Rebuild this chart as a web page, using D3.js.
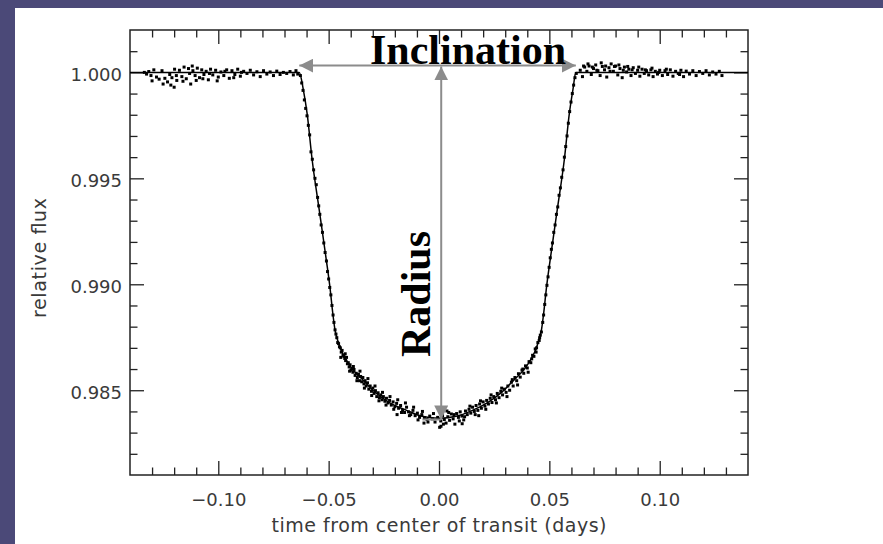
<!DOCTYPE html>
<html>
<head>
<meta charset="utf-8">
<script src="https://cdn.jsdelivr.net/npm/d3@7"></script>
<style>
  body { margin: 0; background: #4b4978; }
  svg { display: block; }
</style>
</head>
<body>
<div id="plot"></div>
<script>
(function() {
"use strict";

// tick values
const X_MAJOR = [-0.10, -0.05, 0.00, 0.05, 0.10];
const Y_MAJOR = [0.985, 0.990, 0.995, 1.000];

// fitted transit model (time in days, relative flux)
const MODEL_TIME = [-0.140, -0.0633, -0.0615, -0.0597, -0.0575, -0.0543, -0.0511, -0.0493, -0.0482, -0.0472, -0.0460,
  -0.0439, -0.0398, -0.0348, -0.0290, -0.0226, -0.0149, -0.0077, 0.0000, 0.0077, 0.0149, 0.0222, 0.0285, 0.0343,
  0.0393, 0.0433, 0.0453, 0.0465, 0.0475, 0.0486, 0.0504, 0.0536, 0.0568, 0.0590, 0.0607, 0.0620, 0.140];
const MODEL_FLUX = [1.0000, 1.0000, 0.99920, 0.99802, 0.99590, 0.99354, 0.99118, 0.98976, 0.98870, 0.98790, 0.98738,
  0.98679, 0.98608, 0.98552, 0.98491, 0.98443, 0.98406, 0.98377, 0.98368, 0.98377, 0.98404, 0.98443, 0.98491, 0.98552,
  0.98608, 0.98679, 0.98738, 0.98790, 0.98870, 0.98976, 0.99118, 0.99354, 0.99590, 0.99802, 0.99920, 1.0000, 1.0000];

// observations, [time, flux]
const BEFORE = [[-0.1335, 1.00000], [-0.1325, 0.99992], [-0.1315, 1.00004], [-0.1305, 0.99985], [-0.1300, 0.99960],
  [-0.1292, 1.00012], [-0.1280, 0.99978], [-0.1268, 0.99968], [-0.1255, 1.00008], [-0.1250, 0.99945], [-0.1242, 0.99972],
  [-0.1230, 0.99955], [-0.1220, 0.99990], [-0.1215, 0.99940], [-0.1210, 0.99975], [-0.1200, 0.99930], [-0.1198, 1.00015],
  [-0.1190, 0.99985], [-0.1188, 0.99962], [-0.1176, 1.00010], [-0.1165, 0.99980], [-0.1160, 0.99958], [-0.1155, 1.00025],
  [-0.1145, 0.99970], [-0.1135, 1.00018], [-0.1130, 0.99995], [-0.1125, 0.99945], [-0.1118, 1.00030], [-0.1115, 1.00008],
  [-0.1105, 0.99985], [-0.1100, 0.99962], [-0.1095, 1.00020], [-0.1085, 0.99975], [-0.1075, 1.00012], [-0.1070, 0.99970],
  [-0.1065, 0.99990], [-0.1055, 1.00005], [-0.1045, 0.99965], [-0.1040, 0.99995], [-0.1035, 1.00015], [-0.1025, 0.99988],
  [-0.1012, 1.00010], [-0.1005, 0.99960], [-0.1000, 0.99978], [-0.0988, 1.00002], [-0.0975, 0.99985], [-0.0970, 1.00005],
  [-0.0962, 1.00012], [-0.0950, 0.99972], [-0.0938, 1.00008], [-0.0930, 0.99975], [-0.0925, 0.99990], [-0.0912, 1.00015],
  [-0.0900, 0.99982], [-0.0895, 1.00000], [-0.0885, 1.00005], [-0.0870, 0.99995], [-0.0855, 1.00010], [-0.0840, 0.99988],
  [-0.0825, 1.00003], [-0.0810, 0.99980], [-0.0795, 1.00008], [-0.0780, 0.99992], [-0.0765, 1.00002], [-0.0750, 0.99985],
  [-0.0735, 1.00006], [-0.0720, 0.99990], [-0.0705, 1.00000], [-0.0690, 0.99995], [-0.0675, 1.00004], [-0.0660, 0.99988],
  [-0.0648, 1.00008], [-0.0640, 0.99992]];

const INGRESS = [[-0.0628, 0.99985], [-0.0622, 0.99950], [-0.0616, 0.99915], [-0.0610, 0.99870], [-0.0604, 0.99830],
  [-0.0598, 0.99795], [-0.0592, 0.99750], [-0.0586, 0.99705], [-0.0580, 0.99625], [-0.0574, 0.99590], [-0.0568, 0.99540],
  [-0.0562, 0.99500], [-0.0556, 0.99470], [-0.0550, 0.99410], [-0.0545, 0.99370], [-0.0540, 0.99330], [-0.0534, 0.99280],
  [-0.0528, 0.99245], [-0.0522, 0.99195], [-0.0516, 0.99150], [-0.0510, 0.99110], [-0.0505, 0.99060], [-0.0500, 0.99025],
  [-0.0495, 0.98985], [-0.0490, 0.98950], [-0.0485, 0.98900], [-0.0480, 0.98855], [-0.0476, 0.98820]];

const BOTTOM_LEFT = [[-0.0471, 0.98785], [-0.0467, 0.98765], [-0.0463, 0.98748], [-0.0459, 0.98725], [-0.0455, 0.98720],
  [-0.0451, 0.98705], [-0.0447, 0.98700], [-0.0445, 0.98655], [-0.0443, 0.98680], [-0.0439, 0.98688], [-0.0435, 0.98665],
  [-0.0431, 0.98660], [-0.0427, 0.98650], [-0.0425, 0.98672], [-0.0423, 0.98640], [-0.0419, 0.98655], [-0.0415, 0.98625],
  [-0.0411, 0.98630], [-0.0407, 0.98610], [-0.0405, 0.98590], [-0.0403, 0.98620], [-0.0399, 0.98595], [-0.0395, 0.98600],
  [-0.0390, 0.98585], [-0.0388, 0.98612], [-0.0385, 0.98598], [-0.0380, 0.98570], [-0.0375, 0.98580], [-0.0372, 0.98545],
  [-0.0370, 0.98560], [-0.0365, 0.98575], [-0.0360, 0.98545], [-0.0358, 0.98590], [-0.0355, 0.98565], [-0.0350, 0.98540],
  [-0.0345, 0.98560], [-0.0340, 0.98530], [-0.0338, 0.98510], [-0.0335, 0.98545], [-0.0330, 0.98520], [-0.0324, 0.98535],
  [-0.0322, 0.98555], [-0.0318, 0.98505], [-0.0312, 0.98520], [-0.0306, 0.98495], [-0.0305, 0.98475], [-0.0300, 0.98510],
  [-0.0294, 0.98485], [-0.0290, 0.98520], [-0.0288, 0.98498], [-0.0282, 0.98470], [-0.0276, 0.98488], [-0.0272, 0.98450],
  [-0.0270, 0.98465], [-0.0264, 0.98478], [-0.0258, 0.98455], [-0.0256, 0.98490], [-0.0252, 0.98470], [-0.0245, 0.98448],
  [-0.0240, 0.98430], [-0.0238, 0.98462], [-0.0231, 0.98440], [-0.0224, 0.98452], [-0.0222, 0.98470], [-0.0216, 0.98430],
  [-0.0208, 0.98445], [-0.0205, 0.98410], [-0.0200, 0.98422], [-0.0192, 0.98438], [-0.0190, 0.98385], [-0.0187, 0.98455],
  [-0.0183, 0.98415], [-0.0174, 0.98428], [-0.0170, 0.98395], [-0.0165, 0.98405], [-0.0156, 0.98395], [-0.0152, 0.98440],
  [-0.0147, 0.98420], [-0.0138, 0.98398], [-0.0134, 0.98380], [-0.0128, 0.98385], [-0.0118, 0.98405], [-0.0115, 0.98420],
  [-0.0108, 0.98380], [-0.0098, 0.98392], [-0.0095, 0.98360], [-0.0088, 0.98372], [-0.0078, 0.98385], [-0.0075, 0.98400],
  [-0.0068, 0.98345], [-0.0066, 0.98370], [-0.0054, 0.98362], [-0.0050, 0.98350], [-0.0042, 0.98378], [-0.0030, 0.98365],
  [-0.0025, 0.98390], [-0.0018, 0.98350], [-0.0006, 0.98372], [0.0003, 0.98325]];

const BOTTOM_RIGHT = [[0.0008, 0.98355], [0.0009, 0.98330], [0.0016, 0.98380], [0.0020, 0.98340], [0.0024, 0.98362],
  [0.0032, 0.98345], [0.0036, 0.98402], [0.0040, 0.98375], [0.0044, 0.98395], [0.0048, 0.98358], [0.0056, 0.98388],
  [0.0064, 0.98365], [0.0068, 0.98385], [0.0072, 0.98340], [0.0080, 0.98390], [0.0088, 0.98372], [0.0092, 0.98355],
  [0.0096, 0.98398], [0.0104, 0.98378], [0.0105, 0.98342], [0.0112, 0.98360], [0.0116, 0.98375], [0.0120, 0.98402],
  [0.0128, 0.98385], [0.0136, 0.98410], [0.0140, 0.98425], [0.0144, 0.98392], [0.0152, 0.98420], [0.0160, 0.98400],
  [0.0164, 0.98385], [0.0168, 0.98428], [0.0176, 0.98405], [0.0180, 0.98380], [0.0184, 0.98435], [0.0188, 0.98450],
  [0.0192, 0.98415], [0.0200, 0.98445], [0.0208, 0.98425], [0.0212, 0.98410], [0.0216, 0.98452], [0.0224, 0.98435],
  [0.0232, 0.98462], [0.0236, 0.98478], [0.0240, 0.98442], [0.0248, 0.98470], [0.0256, 0.98455], [0.0260, 0.98440],
  [0.0264, 0.98485], [0.0272, 0.98465], [0.0280, 0.98495], [0.0284, 0.98510], [0.0288, 0.98478], [0.0296, 0.98505],
  [0.0304, 0.98490], [0.0308, 0.98470], [0.0312, 0.98520], [0.0320, 0.98500], [0.0328, 0.98538], [0.0332, 0.98550],
  [0.0336, 0.98520], [0.0344, 0.98560], [0.0352, 0.98545], [0.0356, 0.98525], [0.0360, 0.98578], [0.0368, 0.98562],
  [0.0376, 0.98595], [0.0380, 0.98600], [0.0384, 0.98580], [0.0392, 0.98615], [0.0400, 0.98605], [0.0404, 0.98585],
  [0.0408, 0.98635], [0.0416, 0.98630], [0.0420, 0.98648], [0.0424, 0.98665], [0.0430, 0.98660], [0.0436, 0.98695],
  [0.0440, 0.98680], [0.0442, 0.98700], [0.0448, 0.98725], [0.0454, 0.98735], [0.0456, 0.98748], [0.0459, 0.98760],
  [0.0464, 0.98775]];

const EGRESS = [[0.0470, 0.98820], [0.0474, 0.98855], [0.0479, 0.98905], [0.0484, 0.98950], [0.0489, 0.98995],
  [0.0494, 0.99035], [0.0499, 0.99080], [0.0504, 0.99125], [0.0509, 0.99165], [0.0514, 0.99195], [0.0520, 0.99245],
  [0.0526, 0.99280], [0.0532, 0.99330], [0.0538, 0.99365], [0.0544, 0.99420], [0.0550, 0.99455], [0.0556, 0.99505],
  [0.0562, 0.99540], [0.0568, 0.99600], [0.0574, 0.99650], [0.0580, 0.99700], [0.0586, 0.99760], [0.0592, 0.99815],
  [0.0598, 0.99860], [0.0604, 0.99900], [0.0610, 0.99940], [0.0616, 0.99975], [0.0622, 0.99995]];

const AFTER = [[0.0640, 1.00010], [0.0650, 0.99980], [0.0655, 1.00030], [0.0660, 1.00025], [0.0670, 1.00005],
  [0.0675, 1.00040], [0.0680, 1.00030], [0.0690, 0.99990], [0.0695, 1.00025], [0.0700, 1.00018], [0.0710, 1.00035],
  [0.0715, 1.00010], [0.0720, 1.00008], [0.0730, 0.99985], [0.0735, 1.00045], [0.0740, 1.00028], [0.0750, 1.00012],
  [0.0755, 1.00030], [0.0760, 0.99978], [0.0770, 1.00022], [0.0775, 1.00005], [0.0780, 1.00040], [0.0790, 1.00005],
  [0.0795, 1.00028], [0.0800, 1.00030], [0.0810, 0.99988], [0.0815, 1.00035], [0.0820, 1.00018], [0.0830, 0.99975],
  [0.0835, 1.00010], [0.0840, 1.00025], [0.0850, 1.00002], [0.0855, 1.00028], [0.0860, 1.00015], [0.0870, 0.99985],
  [0.0875, 1.00012], [0.0880, 1.00022], [0.0890, 0.99995], [0.0900, 1.00010], [0.0905, 1.00025], [0.0910, 0.99982],
  [0.0920, 1.00015], [0.0930, 0.99995], [0.0935, 1.00012], [0.0940, 1.00008], [0.0950, 0.99988], [0.0960, 1.00012],
  [0.0965, 1.00020], [0.0970, 0.99980], [0.0980, 1.00005], [0.0990, 0.99992], [0.0995, 1.00000], [0.1000, 1.00010],
  [0.1012, 0.99985], [0.1024, 1.00008], [0.1030, 1.00015], [0.1036, 0.99990], [0.1048, 1.00012], [0.1060, 0.99982],
  [0.1072, 1.00005], [0.1084, 0.99995], [0.1090, 0.99990], [0.1096, 1.00010], [0.1108, 0.99980], [0.1120, 1.00006],
  [0.1135, 0.99992], [0.1150, 1.00008], [0.1165, 0.99985], [0.1180, 1.00004], [0.1195, 0.99995], [0.1210, 1.00008],
  [0.1225, 0.99988], [0.1240, 1.00002], [0.1255, 0.99992], [0.1270, 1.00005], [0.1282, 0.99985]];

// annotation arrows, in data units
const INCL_ARROW = { t0: -0.0633, t1: 0.0620, f: 1.00032 };
const RAD_ARROW = { t: 0.0010, f0: 1.00028, f1: 0.98362 };

const WIDTH = 883;
const HEIGHT = 544;
const LEFT = 130, RIGHT = 748, TOP = 30, BOTTOM = 475;

const SVG = d3.select("#plot")
              .append("svg")
              .attr("width", WIDTH)
              .attr("height", HEIGHT);

// slide background
SVG.append("rect").attr("width", WIDTH).attr("height", HEIGHT).attr("fill", "#4b4978");
SVG.append("rect").attr("x", 15).attr("y", 8).attr("width", WIDTH - 15).attr("height", HEIGHT - 8).attr("fill", "#fff");

const xScale = d3.scaleLinear().domain([-0.14, 0.14]).range([LEFT, RIGHT]);
const yScale = d3.scaleLinear().domain([0.981, 1.002]).range([BOTTOM, TOP]);

const xMinor = d3.range(-13, 14).filter(d => d % 5 !== 0).map(d => d / 100);
const yMinor = d3.range(982, 1002).filter(d => d % 5 !== 0).map(d => d / 1000);

function styleAxis(g) {
  g.select(".domain").remove();
  g.selectAll(".tick line").attr("stroke", "#222").attr("stroke-width", 1.3);
  g.selectAll("text")
    .attr("font-family", "DejaVu Sans, sans-serif")
    .attr("font-size", 18)
    .attr("fill", "#3a3a3a");
}

// bottom
SVG.append("g")
  .attr("transform", `translate(0, ${BOTTOM})`)
  .call(d3.axisBottom(xScale).tickValues(X_MAJOR).tickFormat(d3.format(".2f")).tickSize(-14).tickPadding(0))
  .call(styleAxis)
  .call(g => g.selectAll("text").attr("y", 31).attr("dy", null));
SVG.append("g")
  .attr("transform", `translate(0, ${BOTTOM})`)
  .call(d3.axisBottom(xScale).tickValues(xMinor).tickFormat("").tickSize(-7.5))
  .call(styleAxis);
// top
SVG.append("g")
  .attr("transform", `translate(0, ${TOP})`)
  .call(d3.axisTop(xScale).tickValues(X_MAJOR).tickFormat("").tickSize(-14))
  .call(styleAxis);
SVG.append("g")
  .attr("transform", `translate(0, ${TOP})`)
  .call(d3.axisTop(xScale).tickValues(xMinor).tickFormat("").tickSize(-7.5))
  .call(styleAxis);
// left
SVG.append("g")
  .attr("transform", `translate(${LEFT}, 0)`)
  .call(d3.axisLeft(yScale).tickValues(Y_MAJOR).tickFormat(d3.format(".3f")).tickSize(-14).tickPadding(0))
  .call(styleAxis)
  .call(g => g.selectAll("text").attr("x", -8).attr("dy", "0.45em"));
SVG.append("g")
  .attr("transform", `translate(${LEFT}, 0)`)
  .call(d3.axisLeft(yScale).tickValues(yMinor).tickFormat("").tickSize(-7.5))
  .call(styleAxis);
// right
SVG.append("g")
  .attr("transform", `translate(${RIGHT}, 0)`)
  .call(d3.axisRight(yScale).tickValues(Y_MAJOR).tickFormat("").tickSize(-14))
  .call(styleAxis);
SVG.append("g")
  .attr("transform", `translate(${RIGHT}, 0)`)
  .call(d3.axisRight(yScale).tickValues(yMinor).tickFormat("").tickSize(-7.5))
  .call(styleAxis);

SVG.append("rect")
  .attr("x", LEFT).attr("y", TOP)
  .attr("width", RIGHT - LEFT).attr("height", BOTTOM - TOP)
  .attr("fill", "none").attr("stroke", "#222").attr("stroke-width", 1.5);

// axis titles
SVG.append("text")
  .attr("x", (LEFT + RIGHT) / 2).attr("y", 532)
  .attr("text-anchor", "middle")
  .attr("font-family", "DejaVu Sans, sans-serif").attr("font-size", 19)
  .attr("fill", "#3a3a3a")
  .attr("textLength", 335).attr("lengthAdjust", "spacing")
  .text("time from center of transit (days)");
SVG.append("text")
  .attr("transform", "translate(46, 258) rotate(-90)")
  .attr("text-anchor", "middle")
  .attr("font-family", "DejaVu Sans, sans-serif").attr("font-size", 19)
  .attr("fill", "#3a3a3a")
  .attr("textLength", 120).attr("lengthAdjust", "spacing")
  .text("relative flux");

// model
const model = MODEL_TIME.map((t, i) => [t, MODEL_FLUX[i]]);
SVG.append("path")
  .datum(model)
  .attr("fill", "none")
  .attr("stroke", "#000")
  .attr("stroke-width", 1.5)
  .attr("d", d3.line().x(d => xScale(d[0])).y(d => yScale(d[1])).curve(d3.curveMonotoneX));

// observations
const obs = [].concat(BEFORE, INGRESS, BOTTOM_LEFT, BOTTOM_RIGHT, EGRESS, AFTER);
SVG.selectAll("rect.dot")
  .data(obs)
  .enter()
  .append("rect")
    .attr("class", "dot")
    .attr("x", d => xScale(d[0]) - 1.5)
    .attr("y", d => yScale(d[1]) - 1.5)
    .attr("width", 3)
    .attr("height", 3)
    .attr("fill", "#000");

// annotations
const GREY = "#8c8c8c";
const defs = SVG.append("defs");
defs.append("marker")
  .attr("id", "head")
  .attr("viewBox", "0 0 10 10")
  .attr("refX", 10).attr("refY", 5)
  .attr("markerWidth", 14).attr("markerHeight", 14)
  .attr("markerUnits", "userSpaceOnUse")
  .attr("orient", "auto-start-reverse")
  .append("path")
    .attr("d", "M0,0 L10,5 L0,10 Z")
    .attr("fill", GREY);

SVG.append("line")
  .attr("x1", xScale(INCL_ARROW.t0)).attr("x2", xScale(INCL_ARROW.t1))
  .attr("y1", yScale(INCL_ARROW.f)).attr("y2", yScale(INCL_ARROW.f))
  .attr("stroke", GREY).attr("stroke-width", 2)
  .attr("marker-start", "url(#head)").attr("marker-end", "url(#head)");

SVG.append("line")
  .attr("x1", xScale(RAD_ARROW.t)).attr("x2", xScale(RAD_ARROW.t))
  .attr("y1", yScale(RAD_ARROW.f0)).attr("y2", yScale(RAD_ARROW.f1))
  .attr("stroke", GREY).attr("stroke-width", 2)
  .attr("marker-start", "url(#head)").attr("marker-end", "url(#head)");

SVG.append("line")
  .attr("x1", xScale(-0.0075)).attr("x2", xScale(RAD_ARROW.t))
  .attr("y1", yScale(RAD_ARROW.f1)).attr("y2", yScale(RAD_ARROW.f1))
  .attr("stroke", GREY).attr("stroke-width", 2);

SVG.append("text")
  .attr("x", 370).attr("y", 64)
  .attr("font-family", "Liberation Serif, Times New Roman, serif")
  .attr("font-weight", "bold").attr("font-size", 42)
  .attr("fill", "#000")
  .text("Inclination");

SVG.append("text")
  .attr("transform", "translate(430, 294) rotate(-90)")
  .attr("text-anchor", "middle")
  .attr("font-family", "Liberation Serif, Times New Roman, serif")
  .attr("font-weight", "bold").attr("font-size", 42)
  .attr("fill", "#000")
  .text("Radius");

})();
</script>
</body>
</html>
